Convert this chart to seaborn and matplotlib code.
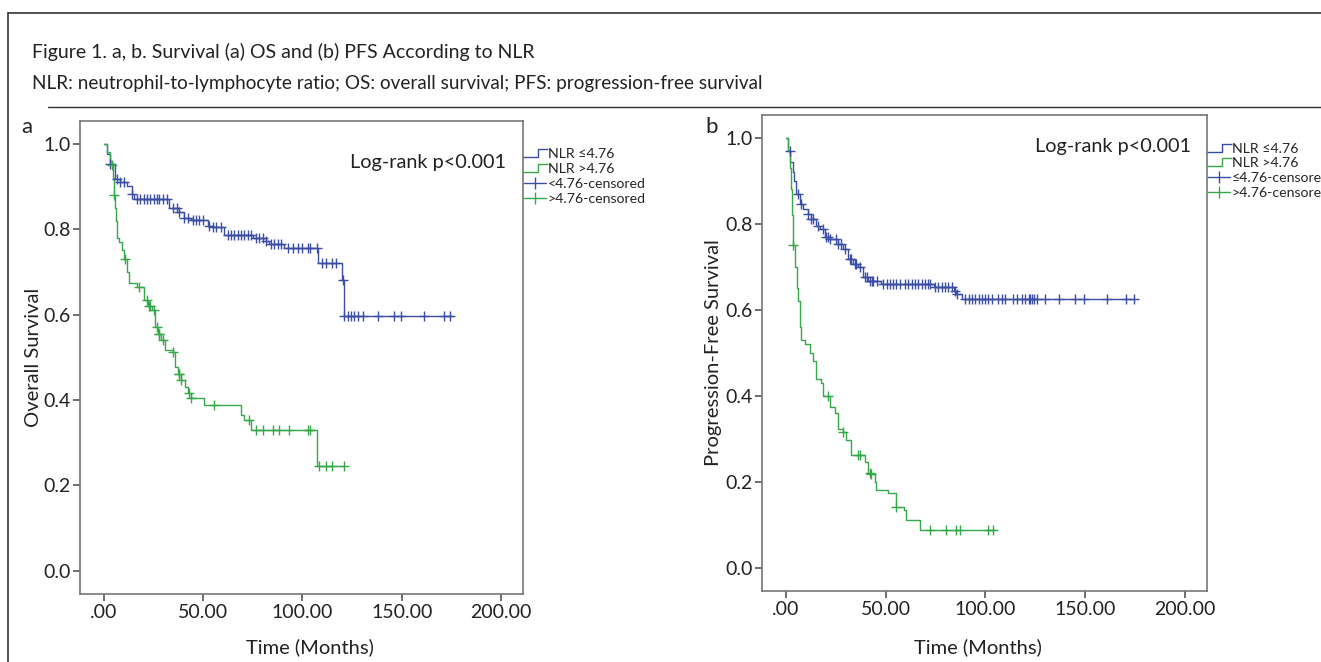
import numpy as np
import pandas as pd
import seaborn as sns
import matplotlib.pyplot as plt
from matplotlib.lines import Line2D
from matplotlib.path import Path

# ---- data (months, survival proportion) ----
# panel a: overall survival
os_low_t = [0, 1.5, 3, 5.5, 8, 11.5, 14, 15, 33, 37.6, 40.6, 44, 52.6, 55, 60.6, 75, 81.7, 83, 90.7, 108, 120, 121, 176]
os_low_s = [1.0, 0.975, 0.953, 0.918, 0.91, 0.90, 0.883, 0.871, 0.850, 0.839, 0.827, 0.822, 0.808, 0.804, 0.787, 0.780,
            0.773, 0.766, 0.755, 0.720, 0.680, 0.596, 0.596]
os_low_cens = [3, 6.5, 8, 10, 14, 16.5, 18, 20, 21.6, 23, 25, 26.6, 28, 30, 31.6, 35, 36.6, 38, 40.6, 42.6, 45, 46.6, 48,
               50, 53, 55, 56.6, 59, 62.7, 64, 65.7, 67.7, 69, 70.7, 72.7, 74, 76.7, 78, 80, 81.7, 84, 85.7, 87.7, 89,
               92.7, 95, 97.7, 100, 102.8, 104, 107.5, 110, 111.8, 115, 116.8, 120.3, 121, 122.8, 124.3, 125.8, 127.8,
               130.3, 137.8, 145.9, 149.4, 161, 171, 174.4]

os_high_t = [0, 1.5, 3, 4, 4.5, 5, 5.5, 6, 6.5, 7.5, 9, 10, 11.5, 12.5, 16.5, 20, 22, 24, 25.6, 27.5, 29, 30.6, 35, 35.6,
             37.5, 39, 41, 42.6, 44, 50.6, 69, 70.7, 74, 107.5, 121]
os_high_s = [1.0, 0.98, 0.96, 0.95, 0.92, 0.88, 0.85, 0.82, 0.78, 0.77, 0.75, 0.73, 0.70, 0.675, 0.664, 0.633, 0.62, 0.61,
             0.57, 0.555, 0.54, 0.516, 0.512, 0.477, 0.46, 0.446, 0.43, 0.416, 0.404, 0.388, 0.365, 0.353, 0.329, 0.245,
             0.245]
os_high_cens = [4, 5, 10.5, 17.5, 21.5, 22.5, 23, 25, 26.6, 27.6, 28, 30, 35, 37.6, 38, 39, 43, 44, 55.6, 73, 76.7, 80,
                85, 88, 93, 103, 104, 108.5, 112, 115, 121]

# panel b: progression-free survival
pfs_low_t = [0, 1, 2, 3.5, 4, 5, 7, 8.5, 11, 12.5, 15, 17, 19.6, 22, 26, 28.6, 31, 33.7, 36, 38.7, 41, 47.7, 74, 84,
             85.4, 88, 175]
pfs_low_s = [1.0, 0.97, 0.944, 0.921, 0.90, 0.869, 0.846, 0.834, 0.823, 0.811, 0.795, 0.788, 0.769, 0.765, 0.753, 0.741,
             0.718, 0.706, 0.699, 0.676, 0.667, 0.660, 0.653, 0.643, 0.636, 0.625, 0.625]
pfs_low_cens = [1.9, 6, 7.7, 11, 12.7, 13.6, 16, 18.6, 20.3, 21, 22, 25.3, 26, 27.8, 29.5, 32, 32.8, 34.5, 35.3, 37,
                39.5, 40.4, 42, 43, 43.7, 45.4, 48.7, 50.4, 52, 53.8, 55.4, 57, 59.6, 61.3, 63, 64.7, 66.3, 68, 69.7,
                71.4, 72.2, 74.7, 76.4, 78, 79.7, 81.4, 83, 84.8, 85.6, 89.8, 91.5, 93.1, 94.8, 96.5, 98.1, 99.8, 101.5,
                103.2, 106.5, 108.2, 109.9, 114, 115.7, 118.2, 120, 121.6, 122.5, 123.3, 124.1, 125.8, 130, 136.7, 145,
                149.2, 161, 170.2, 174.4]

pfs_high_t = [0, 1, 2, 2.5, 3, 3.5, 4.5, 5.5, 6, 7, 7.5, 9.5, 12, 13.6, 15, 17.6, 18.6, 22, 24.6, 26, 28.6, 30, 32.7,
              39.7, 41, 42.7, 44.7, 45, 51, 55, 59, 60, 67, 105]
pfs_high_s = [1.0, 0.97, 0.93, 0.88, 0.82, 0.75, 0.70, 0.65, 0.62, 0.56, 0.53, 0.52, 0.50, 0.48, 0.44, 0.43, 0.40, 0.373,
              0.361, 0.322, 0.315, 0.298, 0.263, 0.245, 0.221, 0.217, 0.20, 0.182, 0.175, 0.142, 0.135, 0.112, 0.087,
              0.087]
pfs_high_cens = [3.5, 21, 28.6, 36, 37, 42, 42.7, 55, 72, 80, 85, 87, 101.5, 104]

blue = '#3b4ea6'
green = '#35a84a'


def step_value(t_list, s_list, t):
    idx = np.searchsorted(np.array(t_list), t, side='right') - 1
    return np.array(s_list)[idx]


def km_panel(ax, curves, labels, ylabel, pval):
    for (t, s, c, col) in curves:
        curve = pd.DataFrame({'time': t, 'surv': s})
        sns.lineplot(data=curve, x='time', y='surv', ax=ax, color=col, lw=1.0,
                     drawstyle='steps-post', estimator=None, sort=False)
        cens = pd.DataFrame({'time': c, 'surv': step_value(t, s, c)})
        sns.scatterplot(data=cens, x='time', y='surv', ax=ax, marker='+', color=col,
                        s=55, linewidth=1.0, zorder=3)
    ax.set_xlim(-12, 211)
    ax.set_ylim(-0.054, 1.053)
    ax.set_xticks([0, 50, 100, 150, 200])
    ax.set_xticklabels(['.00', '50.00', '100.00', '150.00', '200.00'])
    ax.set_yticks([0, 0.2, 0.4, 0.6, 0.8, 1.0])
    ax.set_yticklabels(['0.0', '0.2', '0.4', '0.6', '0.8', '1.0'])
    ax.tick_params(bottom=True, left=True, direction='out', length=5, width=1.2, color='#555555',
                   labelsize=14, labelcolor='#222222', pad=2)
    for sp in ax.spines.values():
        sp.set_color('#777777')
        sp.set_linewidth(1.2)
        sp.set_visible(True)
    ax.set_xlabel('Time (Months)', fontsize=14.5, color='#222222')
    ax.set_ylabel(ylabel, fontsize=14.5, color='#222222')
    ax.text(pval[0], pval[1], 'Log-rank p<0.001', transform=ax.transAxes, fontsize=14.3,
            color='#222222', va='center', ha='left')

    step_path = Path([(-1.0, -0.35), (0.25, -0.35), (0.25, 0.35), (1.0, 0.35)])
    handles = [
        Line2D([], [], color=blue, marker=step_path, markersize=18, markerfacecolor='none',
               markeredgewidth=1.0, linestyle='none'),
        Line2D([], [], color=green, marker=step_path, markersize=18, markerfacecolor='none',
               markeredgewidth=1.0, linestyle='none'),
        Line2D([], [], color=blue, marker='|', markersize=9, lw=1.0),
        Line2D([], [], color=green, marker='|', markersize=9, lw=1.0),
    ]
    ax.legend(handles, labels, loc='upper left', bbox_to_anchor=(1.0, 0.945), frameon=False,
              borderaxespad=0, handlelength=1.5, handletextpad=0.15, labelspacing=0.2,
              fontsize=10.2, borderpad=0.1)


sns.set_style('white')
plt.rcParams['font.family'] = ['Lato', 'DejaVu Sans']

W, H = 1321, 662
fig = plt.figure(figsize=(W / 100, H / 100), dpi=100)

ax_a = fig.add_axes([80 / W, 1 - 594 / H, 443 / W, 473 / H])
ax_b = fig.add_axes([762 / W, 1 - 591 / H, 445 / W, 476 / H])

km_panel(ax_a,
         [(os_low_t, os_low_s, os_low_cens, blue), (os_high_t, os_high_s, os_high_cens, green)],
         ['NLR ≤4.76', 'NLR >4.76', '<4.76-censored', '>4.76-censored'],
         'Overall Survival', (0.609, 0.913))
km_panel(ax_b,
         [(pfs_low_t, pfs_low_s, pfs_low_cens, blue), (pfs_high_t, pfs_high_s, pfs_high_cens, green)],
         ['NLR ≤4.76', 'NLR >4.76', '≤4.76-censored', '>4.76-censored'],
         'Progression-Free Survival', (0.613, 0.933))

ax_a.yaxis.set_label_coords(-0.086, 0.5)
ax_a.xaxis.set_label_coords(0.519, -0.093)
ax_b.yaxis.set_label_coords(-0.09, 0.5)
ax_b.xaxis.set_label_coords(0.485, -0.099)

# header text and frame lines
fig.text(32 / W, 1 - 52 / H, 'Figure 1. a, b. Survival (a) OS and (b) PFS According to NLR',
         fontsize=14, color='#222222', va='center', ha='left')
fig.text(32 / W, 1 - 83 / H,
         'NLR: neutrophil-to-lymphocyte ratio; OS: overall survival; PFS: progression-free survival',
         fontsize=13.6, color='#222222', va='center', ha='left')
fig.text(27 / W, 1 - 127 / H, 'a', fontsize=16, color='#222222', va='center', ha='center')
fig.text(712 / W, 1 - 127 / H, 'b', fontsize=16, color='#222222', va='center', ha='center')

fig.add_artist(Line2D([8 / W, 1], [1 - 13 / H, 1 - 13 / H], color='#333333', lw=1.2))
fig.add_artist(Line2D([8 / W, 8 / W], [0, 1 - 13 / H], color='#333333', lw=1.2))
fig.add_artist(Line2D([48 / W, 1], [1 - 107 / H, 1 - 107 / H], color='#333333', lw=1.0))

fig.savefig('out.png', dpi=100)
